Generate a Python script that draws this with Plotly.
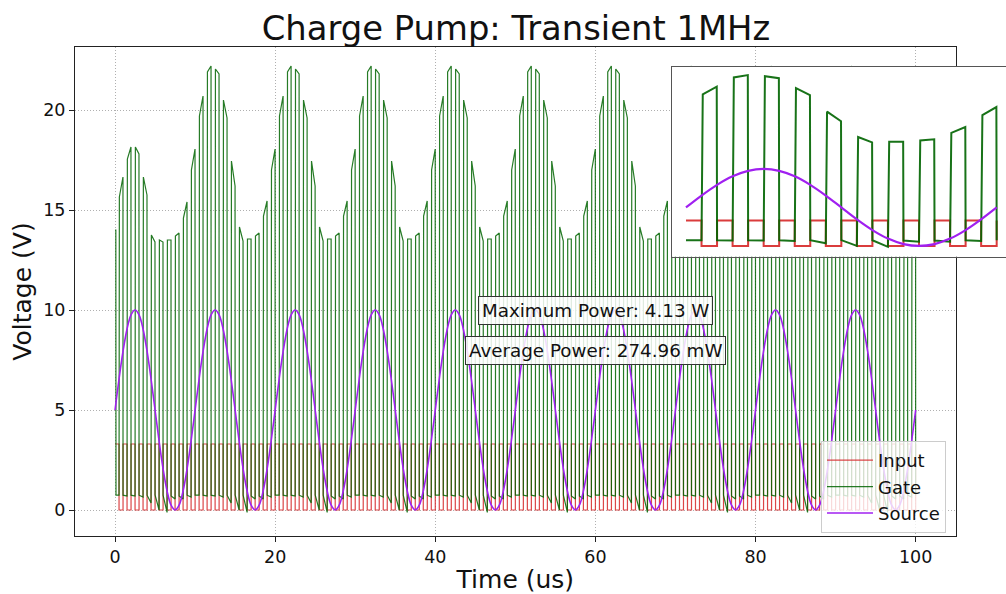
import plotly.graph_objects as go

# ---------------- data ----------------
N_CYCLES = 100            # 1 us switching cycles in the run (0 .. 100 us)
CYCLES_PER_PERIOD = 10    # switching cycles per 10 us source period

input_high_v = 3.3
input_low_v = 0.0

# Source voltage, sampled every 0.5 us over one 10 us period
source_t = [0.0, 0.5, 1.0, 1.5, 2.0, 2.5, 3.0, 3.5, 4.0, 4.5,
            5.0, 5.5, 6.0, 6.5, 7.0, 7.5, 8.0, 8.5, 9.0, 9.5]
source_v = [5.0, 6.55, 7.94, 9.05, 9.76, 10.0, 9.76, 9.05, 7.94, 6.55,
            5.0, 3.45, 2.06, 0.95, 0.24, 0.0, 0.24, 0.95, 2.06, 3.45]

# Gate pulse plateau at the start and end of each pulse (steady state)
gate_top_start = [19.7, 21.9, 22.05, 20.5, 17.45, 14.15, 13.55, 13.7, 14.7, 17.0]
gate_top_end = [20.7, 22.2, 21.8, 19.6, 16.2, 13.45, 13.55, 13.85, 15.45, 18.05]

# Gate pulse plateau during the first period after power-up
startup_top_start = [15.65, 17.55, 18.15, 16.65, 13.75, 13.5, 13.5, 13.7, 14.6, 17.0]
startup_top_end = [16.65, 18.15, 17.8, 15.75, 13.4, 13.4, 13.5, 13.85, 15.4, 18.05]

# Gate level while the input is high (start / end of that half cycle)
gate_low_start = [0.74, 0.74, 0.74, 0.74, 0.74, 0.76, 0.74, 0.70, 0.70, 0.74]
gate_low_end = [0.74, 0.70, 0.70, 0.65, 0.35, 0.0, -0.12, 0.55, 0.55, 0.65]

gate_initial_v = 14.0     # pre-charged gate at t = 0

# Power figures
max_power_w = 4.13
avg_power_mw = 274.96

# Cycle timing (fraction of the 1 us cycle)
T_FALL = 0.5     # input falls / gate starts to rise
T_RISE_END = 0.54
T_TOP_END = 0.99

COL_INPUT = "#d62728"
COL_GATE = "#006400"
COL_SOURCE = "#a020f0"
FONT = "DejaVu Sans"


def build_input(n_cycles):
    t, v = [], []
    for c in range(n_cycles):
        t += [c, c + T_FALL, c + T_FALL, c + 1]
        v += [input_high_v, input_high_v, input_low_v, input_low_v]
    t.append(n_cycles)
    v.append(input_high_v)
    return t, v


def build_gate(n_cycles, with_startup):
    t, v = [], []
    for c in range(n_cycles):
        j = c % CYCLES_PER_PERIOD
        first_period = with_startup and c < CYCLES_PER_PERIOD
        top_a = startup_top_start[j] if first_period else gate_top_start[j]
        top_b = startup_top_end[j] if first_period else gate_top_end[j]
        if with_startup and c == 0:
            t += [0.0, 0.1, 0.12]
            v += [gate_initial_v, gate_initial_v, gate_low_start[j]]
        else:
            t.append(c)
            v.append(gate_low_start[j])
        t += [c + T_FALL, c + T_RISE_END, c + T_TOP_END]
        v += [gate_low_end[j], top_a, top_b]
    t.append(n_cycles)
    v.append(gate_low_start[0])
    return t, v


def build_source(n_periods):
    t, v = [], []
    for p in range(n_periods):
        t += [p * CYCLES_PER_PERIOD + s for s in source_t]
        v += source_v
    t.append(n_periods * CYCLES_PER_PERIOD)
    v.append(source_v[0])
    return t, v


fig = go.Figure()

# ---- main transient ----
ti, vi = build_input(N_CYCLES)
tg, vg = build_gate(N_CYCLES, True)
ts, vs = build_source(N_CYCLES // CYCLES_PER_PERIOD)

fig.add_trace(go.Scatter(x=ti, y=vi, mode="lines", name="Input",
                         line=dict(color=COL_INPUT, width=1.2), opacity=0.85))
fig.add_trace(go.Scatter(x=tg, y=vg, mode="lines", name="Gate",
                         line=dict(color=COL_GATE, width=1.2), opacity=0.85))
fig.add_trace(go.Scatter(x=ts, y=vs, mode="lines", name="Source",
                         line=dict(color=COL_SOURCE, width=1.6, shape="spline")))

# ---- inset: one steady-state source period ----
ti2, vi2 = build_input(CYCLES_PER_PERIOD)
tg2, vg2 = build_gate(CYCLES_PER_PERIOD, False)
ts2, vs2 = build_source(1)
fig.add_trace(go.Scatter(x=ti2, y=vi2, mode="lines", showlegend=False,
                         line=dict(color=COL_INPUT, width=2), opacity=0.9,
                         xaxis="x2", yaxis="y2"))
fig.add_trace(go.Scatter(x=tg2, y=vg2, mode="lines", showlegend=False,
                         line=dict(color=COL_GATE, width=2), opacity=0.9,
                         xaxis="x2", yaxis="y2"))
fig.add_trace(go.Scatter(x=ts2, y=vs2, mode="lines", showlegend=False,
                         line=dict(color=COL_SOURCE, width=2.2, shape="spline"),
                         xaxis="x2", yaxis="y2"))

# ---- layout ----
W, H = 1006, 594
ML, MT, MB, MR = 75, 47, 58, 0
plot_w = W - ML - MR
plot_h = H - MT - MB
main_right_px = 955.7
inset_px = dict(left=672, top=67, bottom=256.7)
GRID = dict(showgrid=True, gridcolor="#b0b0b0", griddash="1px,2px", gridwidth=1)

fig.update_layout(
    width=W, height=H,
    margin=dict(l=ML, r=MR, t=MT, b=MB, pad=0),
    paper_bgcolor="white", plot_bgcolor="white",
    font=dict(family=FONT, color="#111", size=17.5),
    title=dict(text="Charge Pump: Transient 1MHz", xref="container", yref="container",
               x=516 / W, y=1 - 28.5 / H, xanchor="center", yanchor="middle",
               font=dict(size=33.8, family=FONT, color="#111")),
    showlegend=True,
    legend=dict(x=(946 - ML) / plot_w, y=(536 - 533) / plot_h,
                xanchor="right", yanchor="bottom", itemwidth=46,
                bgcolor="rgba(255,255,255,0.8)", bordercolor="#cccccc", borderwidth=1,
                font=dict(size=18, family=FONT, color="#111")),
    xaxis=dict(domain=[0, (main_right_px - ML) / plot_w], range=[-5, 105],
               tickvals=[0, 20, 40, 60, 80, 100], ticks="outside", ticklen=5,
               tickcolor="#222", showline=True, linecolor="#222", linewidth=1, mirror=True,
               zeroline=False, automargin=False, **GRID,
               title=dict(text="Time (us)", standoff=6, font=dict(size=25, family=FONT))),
    yaxis=dict(domain=[0, 1], range=[-1.3, 23.15],
               tickvals=[0, 5, 10, 15, 20], ticks="outside", ticklen=5,
               tickcolor="#222", showline=True, linecolor="#222", linewidth=1, mirror=True,
               zeroline=False, automargin=False, **GRID,
               title=dict(text="Voltage (V)", standoff=4, font=dict(size=25, family=FONT))),
    xaxis2=dict(domain=[(inset_px["left"] - ML) / plot_w, 1.0], range=[-0.45, 10.3],
                anchor="y2", showticklabels=False, ticks="", showgrid=False, zeroline=False,
                showline=True, linecolor="#555", linewidth=1, mirror=True),
    yaxis2=dict(domain=[(H - MB - inset_px["bottom"]) / plot_h, (H - MB - inset_px["top"]) / plot_h],
                range=[-1.4, 23.25], anchor="x2", showticklabels=False, ticks="",
                showgrid=False, zeroline=False,
                showline=True, linecolor="#555", linewidth=1, mirror=True),
)

box = dict(xref="x", yref="y", showarrow=False, bgcolor="rgba(255,255,255,0.85)",
           bordercolor="#333", borderwidth=1, borderpad=3,
           font=dict(size=18.3, family=FONT, color="#111"))
fig.add_annotation(x=60, y=10, text=f"Maximum Power: {max_power_w:.2f} W", **box)
fig.add_annotation(x=60, y=8, text=f"Average Power: {avg_power_mw:.2f} mW", **box)

fig.write_html("out.html")
